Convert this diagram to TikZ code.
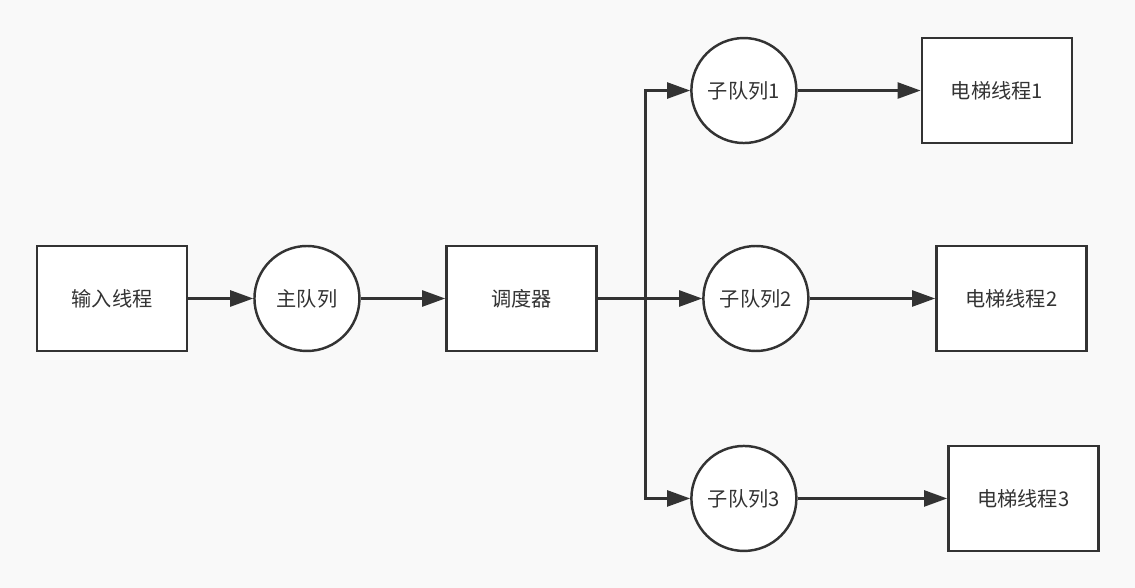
\documentclass[tikz,border=0pt]{standalone}
\usepackage{fontspec}
\setmainfont{Noto Sans CJK SC}
\usetikzlibrary{positioning,arrows.meta}
\definecolor{dLine}{RGB}{51,51,51}
\definecolor{dBack}{RGB}{249,249,249}
\tikzset{
  box/.style={rectangle, draw=dLine, fill=white, line width=1.4pt,
              minimum width=30mm, minimum height=21mm, align=center,
              font=\fontsize{11.5}{14}\selectfont, text=dLine},
  queue/.style={circle, draw=dLine, fill=white, line width=1.4pt,
                minimum size=21mm, inner sep=0pt, align=center,
                font=\fontsize{11.5}{14}\selectfont, text=dLine},
  flow/.style={-{Triangle[length=4.6mm,width=3.2mm]}, draw=dLine, line width=1.4pt},
}

\begin{document}
\begin{tikzpicture}
  \fill[dBack] (0,0) rectangle (22.7,11.76);
  \useasboundingbox (0,0) rectangle (22.7,11.76);

  % --- main chain : input -> main queue -> scheduler -----------------------
  \node[box] (input) at (2.24,5.79) {输入线程};
  \node[queue, right=13mm of input] (mainq) {主队列};
  \node[box, right=16.9mm of mainq] (sched) {调度器};

  % --- sub queues ------------------------------------------------------------
  \node[queue, right=20.9mm of sched] (sub2) {子队列2};
  \node[queue, above=20.1mm of sub2, xshift=-2.4mm] (sub1) {子队列1};
  \node[queue, below=18.5mm of sub2, xshift=-2.4mm] (sub3) {子队列3};

  % --- elevator threads --------------------------------------------------------
  \node[box, right=24.6mm of sub1] (lift1) {电梯线程1};
  \node[box, right=25.1mm of sub2] (lift2) {电梯线程2};
  \node[box, right=29.9mm of sub3] (lift3) {电梯线程3};

  \coordinate[right=9.6mm of sched] (split);

  % --- connectors --------------------------------------------------------------
  \draw[flow] (input) -- (mainq);
  \draw[flow] (mainq) -- (sched);
  \draw[flow] (sched) -- (sub2);
  \draw[flow] (sched.east) -- (split) |- (sub1);
  \draw[flow] (sched.east) -- (split) |- (sub3);
  \draw[flow] (sub1) -- (lift1);
  \draw[flow] (sub2) -- (lift2);
  \draw[flow] (sub3) -- (lift3);
\end{tikzpicture}
\end{document}
